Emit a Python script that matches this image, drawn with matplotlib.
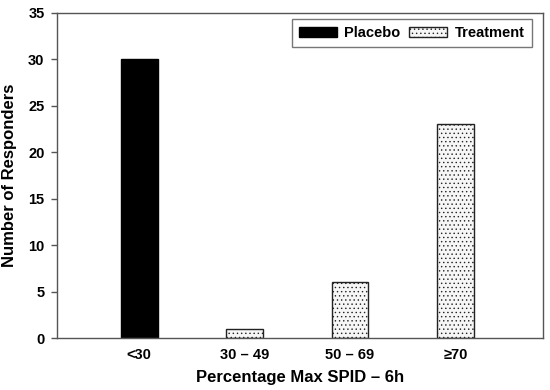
import matplotlib
matplotlib.use("Agg")
import matplotlib.pyplot as plt
import numpy as np

plt.rcParams['font.family'] = ['Liberation Sans', 'DejaVu Sans']
plt.rcParams['hatch.color'] = '#999999'
plt.rcParams['hatch.linewidth'] = 0.5

categories = ["<30", "30 – 49", "50 – 69", "≥70"]
placebo = [30, 0, 0, 0]
treatment = [0, 1, 6, 23]

x = np.arange(len(categories))
width = 0.35

fig = plt.figure(figsize=(5.5, 3.9), dpi=100)
ax = fig.add_axes([0.1036, 0.133, 0.8834, 0.834])

# one bar per category, whichever group has responders
pl_bars = ax.bar(x, placebo, width, color="black", edgecolor="black",
                 linewidth=1.0, label="Placebo")
tr_bars = ax.bar(x, treatment, width, color="#f6f6f6", edgecolor="#222222",
                 linewidth=1.0, hatch="....", label="Treatment")

ax.set_ylim(0, 35)
ax.set_yticks(range(0, 36, 5))
ax.set_xlim(-0.78, 3.83)
ax.set_xticks(x)
ax.set_xticklabels(categories, fontweight="bold", fontsize=10.5)
for lbl in ax.get_yticklabels():
    lbl.set_fontweight("bold")
    lbl.set_fontsize(10.5)
ax.tick_params(axis="x", length=0, pad=7)
ax.tick_params(axis="y", length=4, width=1, color="#555555", direction="out", pad=5)

for sp in ax.spines.values():
    sp.set_color("#555555")
    sp.set_linewidth(1.0)

ax.set_xlabel("Percentage Max SPID – 6h", fontweight="bold", fontsize=12, labelpad=6)
ax.set_ylabel("Number of Responders", fontweight="bold", fontsize=12, labelpad=8)

leg = ax.legend(loc="upper right", ncol=2, frameon=True, fancybox=False,
                edgecolor="#555555", prop={"weight": "bold", "size": 10.5},
                handlelength=2.6, handleheight=0.7, columnspacing=0.6,
                handletextpad=0.5, borderpad=0.5, borderaxespad=0,
                bbox_to_anchor=(0.977, 0.982))
leg.get_frame().set_linewidth(1.0)

fig.savefig("out.png", dpi=100)
